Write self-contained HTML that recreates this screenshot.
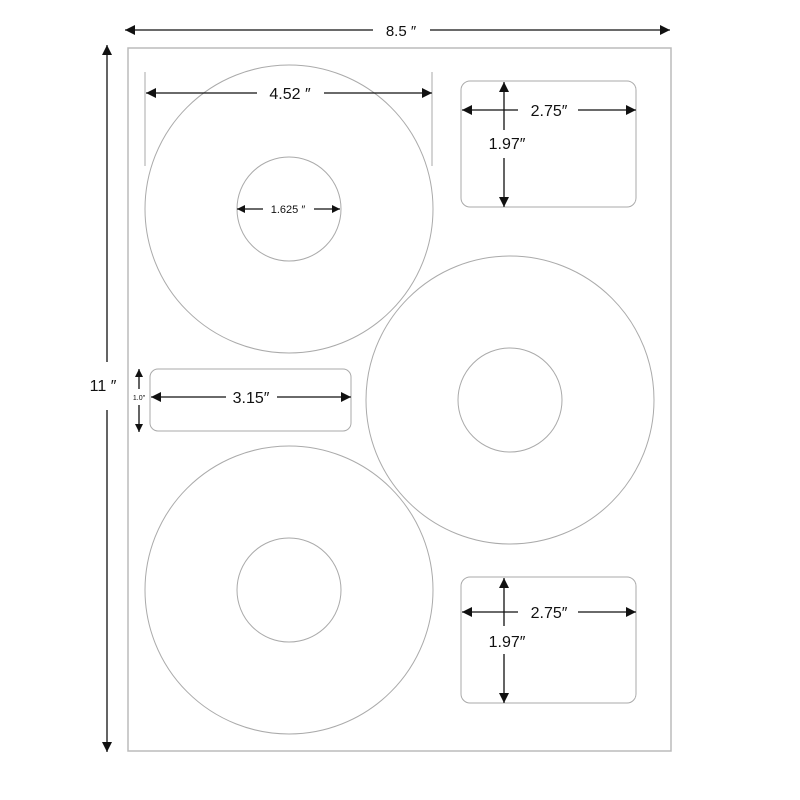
<!DOCTYPE html>
<html><head><style>
html,body{margin:0;padding:0;background:#fff;width:800px;height:800px;overflow:hidden}
svg text{font-family:"Liberation Sans",sans-serif;fill:#111}
</style></head><body>
<svg width="800" height="800" viewBox="0 0 800 800" xmlns="http://www.w3.org/2000/svg">
<defs>
<marker id="a" viewBox="0 0 10 10" refX="10" refY="5" markerWidth="10" markerHeight="10" markerUnits="userSpaceOnUse" orient="auto-start-reverse"><path d="M0,0 L10,5 L0,10 z" fill="#111"/></marker>
<marker id="s" viewBox="0 0 10 10" refX="10" refY="5" markerWidth="8" markerHeight="8" markerUnits="userSpaceOnUse" orient="auto-start-reverse"><path d="M0,0 L10,5 L0,10 z" fill="#111"/></marker>
</defs>
<rect x="128" y="48" width="543" height="703" fill="#fff" stroke="#bbb" stroke-width="1.5"/>
<g fill="none" stroke="#aaa" stroke-width="1">
<circle cx="289" cy="209" r="144"/><circle cx="289" cy="209" r="52"/>
<circle cx="510" cy="400" r="144"/><circle cx="510" cy="400" r="52"/>
<circle cx="289" cy="590" r="144"/><circle cx="289" cy="590" r="52"/>
<rect x="461" y="81" width="175" height="126" rx="9"/>
<rect x="461" y="577" width="175" height="126" rx="9"/>
<rect x="150" y="369" width="201" height="62" rx="8"/>
<line x1="145" y1="72" x2="145" y2="166"/><line x1="432" y1="72" x2="432" y2="166"/>
</g>
<g stroke="#111" stroke-width="1.3" fill="none">
<line x1="125" y1="30" x2="373" y2="30" marker-start="url(#a)"/>
<line x1="430" y1="30" x2="670" y2="30" marker-end="url(#a)"/>
<line x1="107" y1="45" x2="107" y2="362" marker-start="url(#a)"/>
<line x1="107" y1="410" x2="107" y2="752" marker-end="url(#a)"/>
<line x1="146" y1="93" x2="257" y2="93" marker-start="url(#a)"/>
<line x1="324" y1="93" x2="432" y2="93" marker-end="url(#a)"/>
<line x1="237" y1="209" x2="263" y2="209" marker-start="url(#s)"/>
<line x1="314" y1="209" x2="340" y2="209" marker-end="url(#s)"/>
<line x1="462" y1="110" x2="518" y2="110" marker-start="url(#a)"/>
<line x1="578" y1="110" x2="636" y2="110" marker-end="url(#a)"/>
<line x1="504" y1="82" x2="504" y2="130" marker-start="url(#a)"/>
<line x1="504" y1="158" x2="504" y2="207" marker-end="url(#a)"/>
<line x1="462" y1="612" x2="518" y2="612" marker-start="url(#a)"/>
<line x1="578" y1="612" x2="636" y2="612" marker-end="url(#a)"/>
<line x1="504" y1="578" x2="504" y2="626" marker-start="url(#a)"/>
<line x1="504" y1="654" x2="504" y2="703" marker-end="url(#a)"/>
<line x1="151" y1="397" x2="226" y2="397" marker-start="url(#a)"/>
<line x1="277" y1="397" x2="351" y2="397" marker-end="url(#a)"/>
<line x1="139" y1="369" x2="139" y2="389" marker-start="url(#s)"/>
<line x1="139" y1="405" x2="139" y2="432" marker-end="url(#s)"/>
</g>
<g font-size="16" text-anchor="middle">
<text x="401" y="36" font-size="15">8.5 ″</text>
<text x="103" y="391">11 ″</text>
<text x="290" y="99">4.52 ″</text>
<text x="288" y="213" font-size="11">1.625 ″</text>
<text x="549" y="116">2.75″</text>
<text x="507" y="149">1.97″</text>
<text x="549" y="618">2.75″</text>
<text x="507" y="647">1.97″</text>
<text x="251" y="403">3.15″</text>
<text x="139" y="400" font-size="7">1.0″</text>
</g>
</svg>
</body></html>
